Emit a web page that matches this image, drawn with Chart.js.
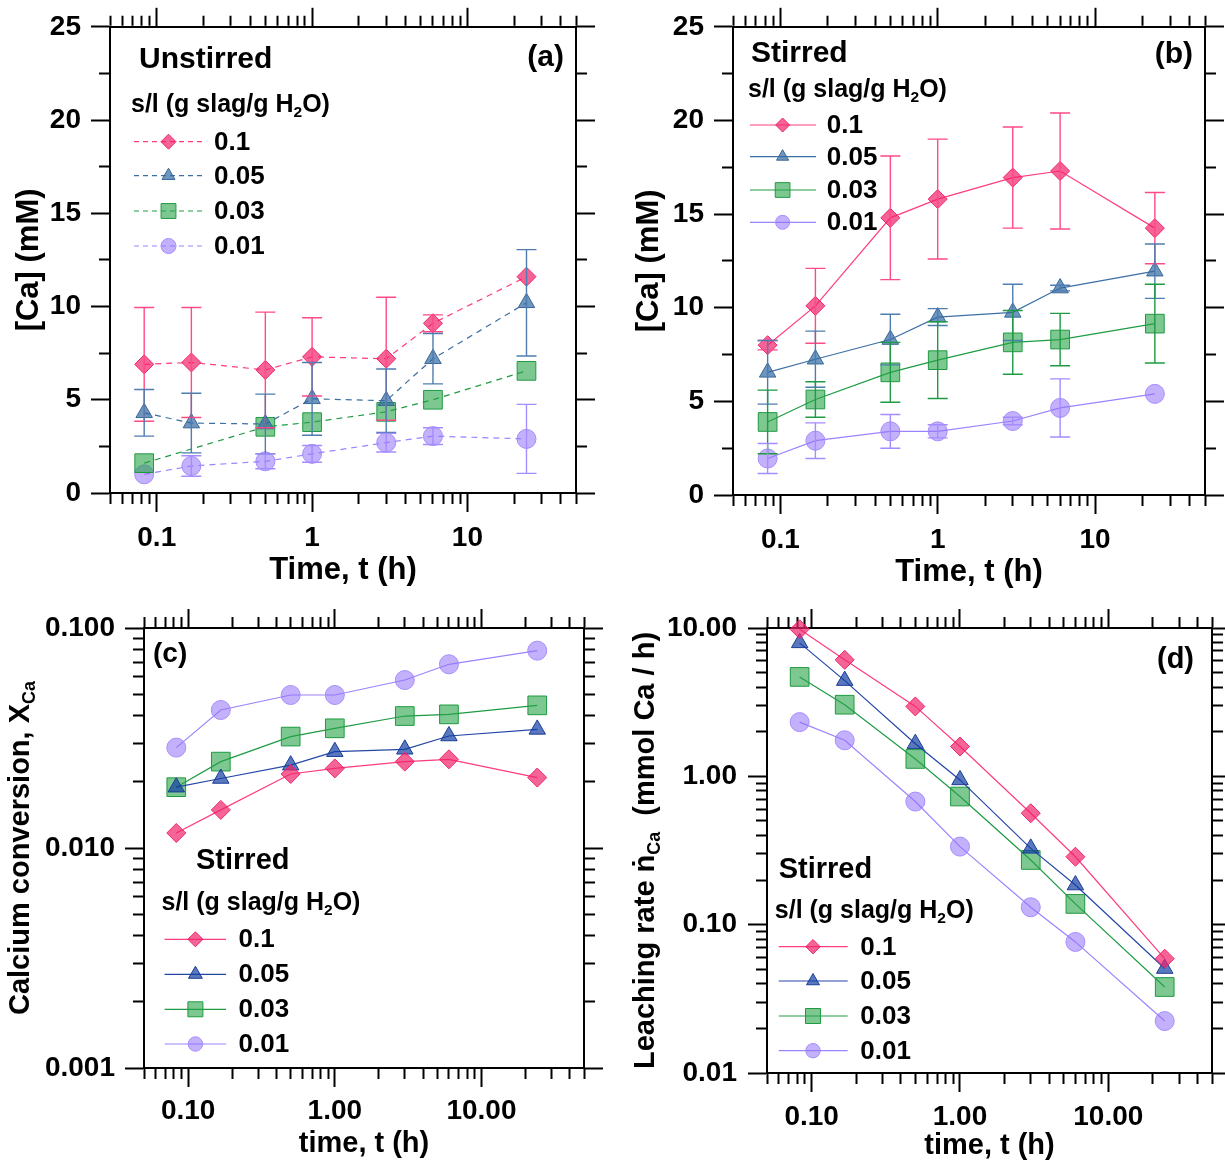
<!DOCTYPE html>
<html>
<head>
<meta charset="utf-8">
<script src="https://cdn.jsdelivr.net/npm/chart.js@4.4.1/dist/chart.umd.min.js"></script>
<style>
  body { margin: 0; background: #fff; }
  #wrap { position: relative; width: 1225px; height: 1166px; }
  canvas { position: absolute; }
</style>
</head>
<body>
<div id="wrap">
  <canvas id="pa" width="612" height="600" style="left:0;top:0"></canvas>
  <canvas id="pb" width="613" height="600" style="left:612px;top:0"></canvas>
  <canvas id="pc" width="612" height="566" style="left:0;top:600px"></canvas>
  <canvas id="pd" width="613" height="566" style="left:612px;top:600px"></canvas>
</div>
<script>
// ---- data ----
const times = [0.083, 0.167, 0.5, 1, 3, 6, 24];   // h
const ratios = ['0.1', '0.05', '0.03', '0.01'];  // s/l, g slag / g H2O

// (a) unstirred [Ca] (mM) and error bars
const caU01 = [6.9, 7.0, 6.6, 7.3, 7.2, 9.1, 11.6];
const caU005 = [4.3, 3.75, 3.7, 5.05, 4.95, 7.2, 10.2];
const caU003 = [1.6, null, 3.55, 3.8, 4.35, 5.0, 6.55];
const caU001 = [1.0, 1.45, 1.7, 2.1, 2.7, 3.05, 2.9];
const errU01 = [3.05, 2.95, 3.1, 2.1, 3.3, 0.45, 0];
const errU005 = [1.25, 1.6, 1.6, 1.95, 1.7, 1.35, 2.85];
const errU003 = [0, 0, 0, 0, 0, 0, 0];
const errU001 = [0, 0.55, 0.4, 0.45, 0.5, 0.45, 1.85];

// (b) stirred [Ca] (mM) and error bars
const caS01 = [8.0, 10.1, 14.8, 15.8, 16.95, 17.3, 14.25];
const caS005 = [6.55, 7.25, 8.3, 9.5, 9.75, 11.05, 11.95];
const caS003 = [3.9, 5.1, 6.55, 7.2, 8.15, 8.3, 9.15];
const caS001 = [1.95, 2.9, 3.4, 3.4, 3.95, 4.65, 5.4];
const errS01 = [0.25, 2.0, 3.3, 3.2, 2.7, 3.1, 1.9];
const errS005 = [1.7, 1.5, 1.35, 0.45, 1.5, 0.15, 1.45];
const errS003 = [1.7, 0.95, 1.6, 2.05, 1.7, 1.4, 2.1];
const errS001 = [0.8, 0.95, 0.9, 0.35, 0.2, 1.55, 0];

// (c) calcium conversion X_Ca (stirred)
const conv01 = [0.0117, 0.0149, 0.0217, 0.0230, 0.0247, 0.0253, 0.0209];
const conv005 = [0.0189, 0.0207, 0.0238, 0.0274, 0.0281, 0.0323, 0.0346];
const conv003 = [0.0189, 0.0247, 0.0321, 0.0350, 0.0398, 0.0405, 0.0445];
const conv001 = [0.0286, 0.0424, 0.0496, 0.0496, 0.0580, 0.0684, 0.0789];

// (d) leaching rate (mmol Ca / h, stirred)
const rate01 = [9.8, 6.1, 2.96, 1.59, 0.564, 0.287, 0.059];
const rate005 = [7.94, 4.42, 1.66, 0.946, 0.327, 0.185, 0.0506];
const rate003 = [4.68, 3.04, 1.31, 0.731, 0.273, 0.138, 0.038];
const rate001 = [2.32, 1.75, 0.676, 0.336, 0.131, 0.0765, 0.0224];

// ---- ticks ----
const caTicks = [0, 2.5, 5, 7.5, 10, 12.5, 15, 17.5, 20, 22.5, 25];
const caMajor = [0, 5, 10, 15, 20, 25];
const caLabels = ['0', '5', '10', '15', '20', '25'];
const timeMajor = [0.1, 1, 10];
const timeLabelsTop = ['0.1', '1', '10'];
const timeLabelsBottom = ['0.10', '1.00', '10.00'];
const convMajor = [0.001, 0.01, 0.1];
const convLabels = ['0.001', '0.010', '0.100'];
const rateMajor = [0.01, 0.1, 1, 10];
const rateLabels = ['0.01', '0.10', '1.00', '10.00'];

function logTicks(lo, hi) {
  const out = [];
  for (let e = -4; e <= 2; e++) {
    for (let m = 1; m <= 9; m++) {
      const v = +(m * Math.pow(10, e)).toPrecision(6);
      if (v >= lo * 0.9999 && v <= hi * 1.0001) out.push(v);
    }
  }
  return out;
}
const timeTicks = logTicks(0.05, 50);

// ---- styles ----
const FAMILY = "'Liberation Sans', Arial, Helvetica, sans-serif";
Chart.defaults.font.family = FAMILY;
Chart.defaults.color = '#000';
const LONG = 19, SHORT = 10;

const pink = { line: '#ff3c7d', fill: 'rgba(241,34,105,0.7)', edge: '#ef2470', err: '#ff4a86', shape: 'rectRot' };
const steel = { line: '#3d6fa4', fill: 'rgba(48,105,162,0.7)', edge: '#3a6898', err: '#4f7db0', shape: 'triangle' };
const navy = { line: '#2447a6', fill: 'rgba(19,62,162,0.7)', edge: '#1c3c98', err: '#2447a6', shape: 'triangle' };
const green = { line: '#1e9b42', fill: 'rgba(38,163,72,0.6)', edge: '#1f9a40', err: '#1e9b42', shape: 'rect' };
const violet = { line: '#9d82ff', fill: 'rgba(147,113,247,0.55)', edge: '#a68cff', err: '#a58cff', shape: 'circle' };
const plotRadius = { rectRot: 9.5, triangle: 9.5, rect: 13.2, circle: 9.5 };

function sameValue(a, b) { return Math.abs(a - b) <= Math.abs(b) * 1e-6; }

function makeAxis(o) {
  const horiz = o.position === 'top' || o.position === 'bottom';
  const outerFirst = o.position === 'top' || o.position === 'left';
  const isMajor = v => o.majors.some(m => sameValue(v, m));
  return {
    type: o.type, axis: horiz ? 'x' : 'y', position: o.position, min: o.min, max: o.max,
    afterBuildTicks: s => { s.ticks = o.ticks.map(v => ({ value: v })); },
    afterFit: s => { if (horiz) s.height = o.size; else s.width = o.size; },
    border: { display: true, color: '#000', width: 2 },
    grid: {
      display: true, drawOnChartArea: false, drawTicks: true, tickLength: LONG,
      tickColor: '#000', tickWidth: 2,
      tickBorderDash: c => (c.tick && isMajor(c.tick.value)) ? [] :
        (outerFirst ? [0, LONG - 1 - SHORT, SHORT, 200] : [SHORT, 200])
    },
    ticks: {
      display: !!o.labels, autoSkip: false, maxRotation: 0, minRotation: 0,
      padding: o.pad || 0, color: '#000', font: { size: 28, weight: 'bold' },
      callback: v => {
        const k = o.majors.findIndex(m => sameValue(v, m));
        return (k >= 0 && o.labels) ? o.labels[k] : '';
      }
    },
    title: o.title ? {
      display: true, text: o.title, color: '#000',
      font: { size: o.titleSize, weight: 'bold' }, padding: { top: 0, bottom: o.titlePad }
    } : { display: false }
  };
}

// error bars drawn from the y scale
const errorBars = {
  id: 'errorBars',
  afterDatasetsDraw(chart) {
    const { ctx } = chart;
    const xs = chart.scales.x, ys = chart.scales.y;
    ctx.save();
    chart.data.datasets.forEach(ds => {
      if (!ds.errors) return;
      ctx.strokeStyle = ds.errColor;
      ctx.lineWidth = 1.4;
      ctx.setLineDash([]);
      ds.data.forEach((p, i) => {
        const e = ds.errors[i];
        if (p.y == null || !e) return;
        const px = xs.getPixelForValue(p.x);
        const top = ys.getPixelForValue(p.y + e), bot = ys.getPixelForValue(p.y - e);
        ctx.beginPath();
        ctx.moveTo(px, top); ctx.lineTo(px, bot);
        ctx.moveTo(px - 10, top); ctx.lineTo(px + 10, top);
        ctx.moveTo(px - 10, bot); ctx.lineTo(px + 10, bot);
        ctx.stroke();
      });
    });
    ctx.restore();
  }
};

function drawRich(ctx, parts, x, y, size) {
  let cx = x;
  parts.forEach(([t, sub]) => {
    const s = sub ? size * 0.62 : size;
    ctx.font = `bold ${s}px ${FAMILY}`;
    ctx.fillText(t, cx, y + (sub ? size * 0.2 : 0));
    cx += ctx.measureText(t).width;
  });
}
function richWidth(ctx, parts, size) {
  let w = 0;
  parts.forEach(([t, sub]) => {
    ctx.font = `bold ${sub ? size * 0.62 : size}px ${FAMILY}`;
    w += ctx.measureText(t).width;
  });
  return w;
}

const headerParts = [['s/l (g slag/g H', 0], ['2', 1], ['O)', 0]];

function notesPlugin(n) {
  return {
    id: 'notes',
    afterDraw(chart) {
      const { ctx, chartArea } = chart;
      ctx.save();
      ctx.fillStyle = '#000';
      ctx.textBaseline = 'alphabetic';
      // y axis title, rotated
      const cy = (chartArea.top + chartArea.bottom) / 2;
      ctx.translate(n.yTitleX, cy);
      ctx.rotate(-Math.PI / 2);
      ctx.textAlign = 'left';
      const w = richWidth(ctx, n.yTitle, n.yTitleSize);
      drawRich(ctx, n.yTitle, -w / 2, n.yTitleSize * 0.35, n.yTitleSize);
      ctx.setTransform(1, 0, 0, 1, 0, 0);
      // panel letter
      ctx.font = `bold ${n.tag.size}px ${FAMILY}`;
      ctx.textAlign = n.tag.align;
      ctx.fillText(n.tag.text, n.tag.x, n.tag.y);
      // condition
      ctx.textAlign = 'left';
      ctx.font = `bold ${n.cond.size}px ${FAMILY}`;
      ctx.fillText(n.cond.text, n.cond.x, n.cond.y);
      // legend header
      drawRich(ctx, headerParts, n.head.x, n.head.y, n.head.size);
      // legend rows
      n.styles.forEach((st, k) => {
        const y = n.rows[k];
        ctx.strokeStyle = st.line;
        ctx.lineWidth = 1.2;
        ctx.setLineDash(n.dashed ? [5, 4] : []);
        ctx.beginPath();
        ctx.moveTo(n.lineX[0], y); ctx.lineTo(n.lineX[1], y);
        ctx.stroke();
        ctx.setLineDash([]);
        ctx.fillStyle = st.fill;
        ctx.strokeStyle = st.edge;
        ctx.lineWidth = 1;
        Chart.helpers.drawPoint(ctx, { pointStyle: st.shape, radius: n.legendRadius[st.shape], rotation: 0, borderWidth: 1 }, n.markX, y);
        ctx.fillStyle = '#000';
        ctx.font = `bold 26px ${FAMILY}`;
        ctx.textBaseline = 'middle';
        ctx.fillText(ratios[k], n.textX, y + 1);
        ctx.textBaseline = 'alphabetic';
      });
      ctx.restore();
    }
  };
}

function buildPanel(id, p) {
  const datasets = p.values.map((vals, k) => ({
    data: times.map((t, i) => ({ x: t, y: vals[i] })),
    errors: p.errors ? p.errors[k] : null,
    errColor: p.styles[k].err,
    borderColor: p.styles[k].line,
    backgroundColor: p.styles[k].fill,
    pointBackgroundColor: p.styles[k].fill,
    pointBorderColor: p.styles[k].edge,
    pointBorderWidth: 1,
    pointStyle: p.styles[k].shape,
    pointRadius: plotRadius[p.styles[k].shape],
    pointHoverRadius: plotRadius[p.styles[k].shape],
    borderWidth: 1.2,
    borderDash: p.notes.dashed ? [6, 5] : [],
    spanGaps: true, tension: 0, clip: false
  }));
  new Chart(document.getElementById(id), {
    type: 'line',
    data: { datasets },
    options: {
      responsive: false, animation: false, events: [],
      layout: { padding: 0, autoPadding: false },
      plugins: { legend: { display: false }, tooltip: { enabled: false } },
      scales: {
        x: makeAxis(Object.assign({ type: 'logarithmic', position: 'bottom', min: 0.05, max: 50, ticks: timeTicks, majors: timeMajor }, p.x)),
        xt: makeAxis({ type: 'logarithmic', position: 'top', min: 0.05, max: 50, ticks: timeTicks, majors: timeMajor, size: p.top }),
        y: makeAxis(Object.assign({ position: 'left' }, p.y)),
        yr: makeAxis(Object.assign({}, p.y, { position: 'right', labels: null, size: p.right }))
      }
    },
    plugins: [errorBars, notesPlugin(p.notes)]
  });
}

const smallLegendR = { rectRot: 7.5, triangle: 7.5, rect: 10.5, circle: 7.5 };
const caTitle = [['[Ca] (mM)', 0]];

buildPanel('pa', {
  values: [caU01, caU005, caU003, caU001],
  errors: [errU01, errU005, errU003, errU001],
  styles: [pink, steel, green, violet],
  top: 25, right: 36,
  x: { size: 107, pad: 9, labels: timeLabelsTop, title: 'Time, t (h)', titleSize: 31, titlePad: 11 },
  y: { type: 'linear', min: 0, max: 25, ticks: caTicks, majors: caMajor, labels: caLabels, size: 110, pad: 10 },
  notes: {
    dashed: true, yTitle: caTitle, yTitleSize: 31, yTitleX: 27,
    tag: { text: '(a)', x: 564, y: 66, size: 30, align: 'right' },
    cond: { text: 'Unstirred', x: 139, y: 68, size: 30 },
    head: { x: 131, y: 112, size: 25 },
    rows: [141.7, 175.7, 211, 246], lineX: [134, 203], markX: 168.5, textX: 214,
    legendRadius: smallLegendR, styles: [pink, steel, green, violet]
  }
});

buildPanel('pb', {
  values: [caS01, caS005, caS003, caS001],
  errors: [errS01, errS005, errS003, errS001],
  styles: [pink, steel, green, violet],
  top: 25, right: 20,
  x: { size: 105, pad: 9, labels: timeLabelsTop, title: 'Time, t (h)', titleSize: 31, titlePad: 9 },
  y: { type: 'linear', min: 0, max: 25, ticks: caTicks, majors: caMajor, labels: caLabels, size: 121, pad: 10 },
  notes: {
    dashed: false, yTitle: caTitle, yTitleSize: 31, yTitleX: 35,
    tag: { text: '(b)', x: 581, y: 62.7, size: 30, align: 'right' },
    cond: { text: 'Stirred', x: 139, y: 61.7, size: 30 },
    head: { x: 136, y: 96.7, size: 25 },
    rows: [125, 156.7, 190, 222.3], lineX: [138, 204], markX: 170.6, textX: 214.8,
    legendRadius: { rectRot: 7, triangle: 7, rect: 10.4, circle: 7 }, styles: [pink, steel, green, violet]
  }
});

buildPanel('pc', {
  values: [conv01, conv005, conv003, conv001],
  errors: null,
  styles: [pink, navy, green, violet],
  top: 28, right: 28,
  x: { size: 98, pad: 7, labels: timeLabelsBottom, title: 'time, t (h)', titleSize: 29, titlePad: 5 },
  y: { type: 'logarithmic', min: 0.001, max: 0.1, ticks: logTicks(0.001, 0.1), majors: convMajor, labels: convLabels, size: 144, pad: 10 },
  notes: {
    dashed: false, yTitle: [['Calcium conversion, X', 0], ['Ca', 1]], yTitleSize: 29, yTitleX: 19,
    tag: { text: '(c)', x: 153, y: 61.7, size: 28, align: 'left' },
    cond: { text: 'Stirred', x: 196, y: 269.3, size: 29 },
    head: { x: 161.5, y: 310, size: 25 },
    rows: [339.3, 374.3, 409.3, 444], lineX: [164.6, 226], markX: 195.4, textX: 238.5,
    legendRadius: { rectRot: 7.5, triangle: 8, rect: 10.6, circle: 7.2 }, styles: [pink, navy, green, violet]
  }
});

buildPanel('pd', {
  values: [rate01, rate005, rate003, rate001],
  errors: null,
  styles: [pink, navy, green, violet],
  top: 28, right: 13,
  x: { size: 93, pad: 8, labels: timeLabelsBottom, title: 'time, t (h)', titleSize: 29, titlePad: 3 },
  y: { type: 'logarithmic', min: 0.01, max: 10, ticks: logTicks(0.01, 10), majors: rateMajor, labels: rateLabels, size: 155, pad: 11 },
  notes: {
    dashed: false, yTitle: [['Leaching rate \u1E45', 0], ['Ca', 1], ['  (mmol Ca / h)', 0]], yTitleSize: 29, yTitleX: 32,
    tag: { text: '(d)', x: 582, y: 68, size: 29, align: 'right' },
    cond: { text: 'Stirred', x: 166.7, y: 278.3, size: 29 },
    head: { x: 162.8, y: 318.3, size: 25 },
    rows: [346.7, 381, 416, 450.7], lineX: [166.7, 235.7], markX: 201, textX: 248.3,
    legendRadius: { rectRot: 7.2, triangle: 7.5, rect: 10.6, circle: 7.2 }, styles: [pink, navy, green, violet]
  }
});
</script>
</body>
</html>
